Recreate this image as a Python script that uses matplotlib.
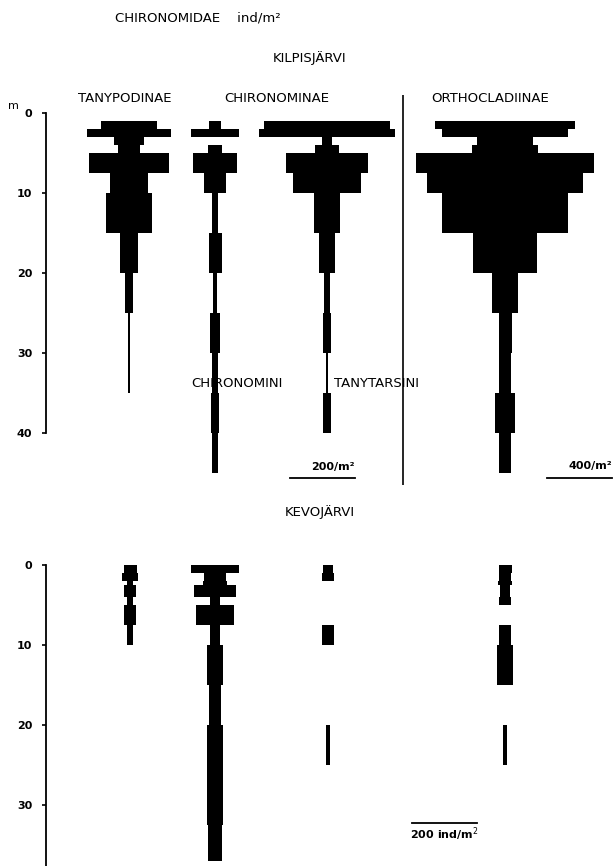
import numpy as np
import matplotlib
matplotlib.use("Agg")
import matplotlib.pyplot as plt

# ---- data (ind/m2), depth bands in metres ----
kilpis_edges = [1, 2, 3, 4, 5, 7.5, 10, 15, 20, 25, 30, 35, 40, 45]
tanypodinae = [170, 260, 95, 65, 245, 115, 140, 55, 25, 6, 6, 0, 0]
chironomini = [35, 145, 0, 45, 135, 70, 20, 40, 15, 30, 20, 25, 20]
tanytarsini = [390, 420, 30, 75, 250, 210, 80, 50, 20, 23, 5, 22, 0]
orthocladiinae = [860, 780, 340, 410, 1100, 960, 780, 390, 155, 80, 75, 120, 75]

kevo_edges = [0, 1, 2, 2.5, 4, 5, 7.5, 10, 15, 20, 25, 32.5, 37]
kevo_tanypodinae = [40, 50, 20, 35, 20, 35, 18, 0, 0, 0, 0, 0]
kevo_chironomini = [150, 70, 75, 130, 30, 115, 30, 52, 34, 52, 49, 43]
kevo_tanytarsini = [30, 37, 0, 0, 0, 0, 40, 0, 0, 12, 0, 0]
kevo_orthocladiinae = [40, 37, 43, 31, 34, 0, 34, 52, 0, 15, 0, 0]

depth_ticks_top = [0, 10, 20, 30, 40]
depth_ticks_bottom = [0, 10, 20, 30]

# ---- layout (pixels of a 614x866 figure) ----
W, H = 614, 866
PX_PER_UNIT = 65 / 200          # 200 ind/m2 -> 65 px
PX_PER_M = 8.0

def px(x):
    return x / PX_PER_UNIT

fig = plt.figure(figsize=(W / 100, H / 100), dpi=100)
plt.rcParams['font.family'] = ['DejaVu Sans']

def make_axes(top_px, bot_px, zero_px):
    ax = fig.add_axes([0, 1 - bot_px / H, 1, (bot_px - top_px) / H])
    ax.set_xlim(0, px(W))
    ax.set_ylim((bot_px - zero_px) / PX_PER_M, (top_px - zero_px) / PX_PER_M)
    for s in ['top', 'right', 'bottom']:
        ax.spines[s].set_visible(False)
    ax.spines['left'].set_position(('data', px(46)))
    ax.spines['left'].set_linewidth(1.3)
    ax.set_xticks([])
    ax.patch.set_alpha(0)
    ax.tick_params(axis='y', length=3, width=1.2, pad=7, labelsize=8)
    return ax

def draw_kite(ax, center, edges, values, factor=1.0):
    edges = np.asarray(edges, float)
    vals = np.asarray(values, float) * factor
    mids = (edges[:-1] + edges[1:]) / 2
    ax.barh(mids, vals, height=np.diff(edges), left=center - vals / 2,
            color='black', linewidth=0)

# ---- Kilpisjarvi ----
ax1 = make_axes(90, 490, 113)
ax1.spines['left'].set_bounds(0, 40)
ax1.set_yticks(depth_ticks_top)
ax1.set_yticklabels([str(t) for t in depth_ticks_top], fontweight='bold')

centers_top = [px(129), px(215), px(327), px(505)]
draw_kite(ax1, centers_top[0], kilpis_edges, tanypodinae)
draw_kite(ax1, centers_top[1], kilpis_edges, chironomini)
draw_kite(ax1, centers_top[2], kilpis_edges, tanytarsini)
draw_kite(ax1, centers_top[3], kilpis_edges, orthocladiinae, 0.5)

ax1.vlines(px(403), -2.3, 46.5, color='black', linewidth=1.2)

# scale bars
ax1.plot([px(355) - 200, px(355)], [45.6, 45.6], color='black', lw=1.3)
ax1.text(px(355), 44.6, '200/m²', ha='right', va='baseline', fontsize=8, fontweight='bold')
ax1.plot([px(612) - 400 * 0.5, px(612)], [45.6, 45.6], color='black', lw=1.3)
ax1.text(px(612), 44.5, '400/m²', ha='right', va='baseline', fontsize=8, fontweight='bold')

# ---- Kevojarvi ----
ax2 = make_axes(540, 866, 565)
ax2.spines['left'].set_bounds(0, (866 - 565) / PX_PER_M)
ax2.set_yticks(depth_ticks_bottom)
ax2.set_yticklabels([str(t) for t in depth_ticks_bottom], fontweight='bold')

centers_bot = [px(130), px(215), px(328), px(505)]
draw_kite(ax2, centers_bot[0], kevo_edges, kevo_tanypodinae)
draw_kite(ax2, centers_bot[1], kevo_edges, kevo_chironomini)
draw_kite(ax2, centers_bot[2], kevo_edges, kevo_tanytarsini)
draw_kite(ax2, centers_bot[3], kevo_edges, kevo_orthocladiinae)

ax2.plot([px(412), px(412) + 200], [32.3, 32.3], color='black', lw=1.3)
ax2.text(px(410), 34.2, '200 ind/m$^2$', ha='left', va='baseline', fontsize=8, fontweight='bold')

# ---- titles / labels ----
def ftext(x, y, s, **kw):
    kw.setdefault('fontsize', 9.5)
    fig.text(x / W, 1 - y / H, s, ha='center', va='center', **kw)

ftext(198, 18, 'CHIRONOMIDAE    ind/m²')
ftext(310, 58, 'KILPISJÄRVI')
ftext(125, 99, 'TANYPODINAE')
ftext(277, 99, 'CHIRONOMINAE')
ftext(490, 99, 'ORTHOCLADIINAE')
ftext(237, 383, 'CHIRONOMINI')
ftext(376, 383, 'TANYTARSINI')
ftext(320, 512, 'KEVOJÄRVI')
ftext(13, 106, 'm', fontsize=8)

fig.savefig('out.png', dpi=100)
